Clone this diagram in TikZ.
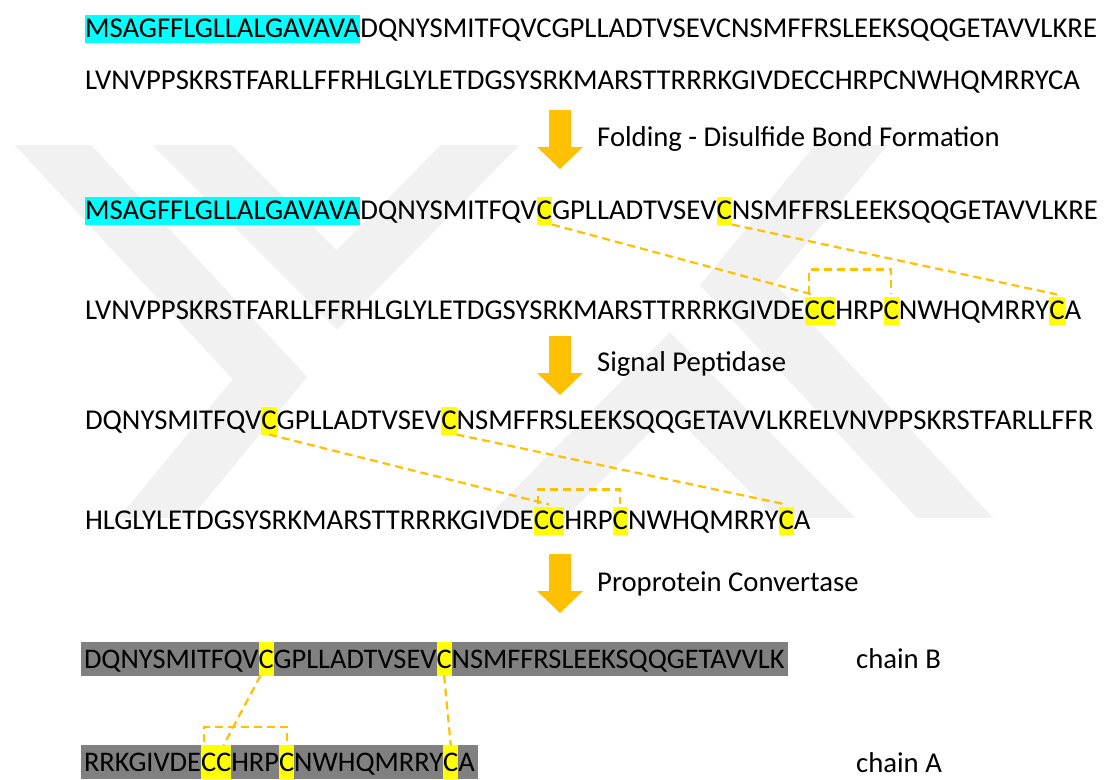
\documentclass[tikz,border=0pt]{standalone}
\usepackage{fontspec}
\setmainfont{Carlito}
\definecolor{gold}{HTML}{FFC000}
\definecolor{wmgray}{HTML}{F1F1F1}
\definecolor{chaingray}{HTML}{808080}
\definecolor{sigcyan}{HTML}{00FFFF}
\definecolor{hlyellow}{HTML}{FFFF00}
\pgfdeclarelayer{wm}
\pgfdeclarelayer{bg}
\pgfsetlayers{wm,bg,main}
\tikzset{
  seg/.style={inner sep=0pt, outer sep=0pt, anchor=base west, text height=22.5pt, text depth=5.5pt},
  hl/.style={seg, fill=hlyellow},
  sig/.style={seg, fill=sigcyan},
  cseg/.style={seg, font=\fontsize{28.4}{34}\selectfont, text height=26pt, text depth=7.5pt},
  chl/.style={cseg, fill=hlyellow},
  bond/.style={draw=gold, line width=2.2pt, dash pattern=on 8pt off 5pt},
  lbl/.style={anchor=base west, inner sep=0pt},
  wmband/.style={draw=wmgray, line width=56pt, miter limit=20},
  downarrow/.pic={\fill[gold] (-11,0) -- (11,0) -- (11,37) -- (23,37) -- (0,59) -- (-23,37) -- (-11,37) -- cycle;}
}
\begin{document}
\begin{tikzpicture}[x=1pt,y=-1pt,font=\fontsize{28.7}{34}\selectfont]
\useasboundingbox (0,0) rectangle (1107,779);
% watermark
\begin{pgfonlayer}{wm}
\begin{scope}
\clip (0,145) rectangle (1107,517);
\draw[wmband] (25,115) -- (270,378) -- (131,547);
\draw[wmband] (162,115) -- (337,290) -- (510,115);
\begin{scope}[rotate around={180:(503.5,331)}]
\draw[wmband] (25,115) -- (270,378) -- (131,547);
\draw[wmband] (162,115) -- (337,290) -- (510,115);
\end{scope}
\end{scope}
\end{pgfonlayer}
% row 1-2
\node[sig] (r1a) at (85,37) {MSAGFFLGLLALGAVAVA};
\node[seg] (r1b) at (r1a.base east) {DQNYSMITFQVCGPLLADTVSEVCNSMFFRSLEEKSQQGETAVVLKRE};
\node[seg] (r2) at (85,89) {LVNVPPSKRSTFARLLFFRHLGLYLETDGSYSRKMARSTTRRRKGIVDECCHRPCNWHQMRRYCA};
% arrow 1
\pic at (560,110) {downarrow};
\node[lbl] (l1) at (597,146) {Folding - Disulfide Bond Formation};
% row 3
\node[sig] (r3a) at (85,219) {MSAGFFLGLLALGAVAVA};
\node[seg] (r3b) at (r3a.base east) {DQNYSMITFQV};
\node[hl] (r3c1) at (r3b.base east) {C};
\node[seg] (r3d) at (r3c1.base east) {GPLLADTVSEV};
\node[hl] (r3c2) at (r3d.base east) {C};
\node[seg] (r3e) at (r3c2.base east) {NSMFFRSLEEKSQQGETAVVLKRE};
% row 4
\node[seg] (r4a) at (85,319) {LVNVPPSKRSTFARLLFFRHLGLYLETDGSYSRKMARSTTRRRKGIVDE};
\node[hl] (r4c1) at (r4a.base east) {C};
\node[hl] (r4c2) at (r4c1.base east) {C};
\node[seg] (r4b) at (r4c2.base east) {HRP};
\node[hl] (r4c3) at (r4b.base east) {C};
\node[seg] (r4d) at (r4c3.base east) {NWHQMRRY};
\node[hl] (r4c4) at (r4d.base east) {C};
\node[seg] (r4e) at (r4c4.base east) {A};
\draw[bond] (r3c1.south east) -- ([yshift=2pt]r4c1.north);
\draw[bond] (r3c2.south east) -- ([yshift=2pt]r4c4.north);
\draw[bond] ([xshift=4pt,yshift=3pt]r4c1.north west) -- ++(0,-24) -| ([yshift=3pt]r4c3.north);
% arrow 2
\pic at (560,336) {downarrow};
\node[lbl] (l2) at (597,371) {Signal Peptidase};
% row 5
\node[seg] (r5a) at (85,429) {DQNYSMITFQV};
\node[hl] (r5c1) at (r5a.base east) {C};
\node[seg] (r5b) at (r5c1.base east) {GPLLADTVSEV};
\node[hl] (r5c2) at (r5b.base east) {C};
\node[seg] (r5d) at (r5c2.base east) {NSMFFRSLEEKSQQGETAVVLKRELVNVPPSKRSTFARLLFFR};
% row 6
\node[seg] (r6a) at (85,529) {HLGLYLETDGSYSRKMARSTTRRRKGIVDE};
\node[hl] (r6c1) at (r6a.base east) {C};
\node[hl] (r6c2) at (r6c1.base east) {C};
\node[seg] (r6b) at (r6c2.base east) {HRP};
\node[hl] (r6c3) at (r6b.base east) {C};
\node[seg] (r6d) at (r6c3.base east) {NWHQMRRY};
\node[hl] (r6c4) at (r6d.base east) {C};
\node[seg] (r6e) at (r6c4.base east) {A};
\draw[bond] (r5c1.south) -- ([yshift=2pt]r6c1.north east);
\draw[bond] (r5c2.south east) -- ([yshift=2pt]r6c4.north);
\draw[bond] ([xshift=4pt,yshift=3pt]r6c1.north west) -- ++(0,-14) -| ([yshift=3pt]r6c3.north);
% arrow 3
\pic at (560,554) {downarrow};
\node[lbl] (l3) at (597,591) {Proprotein Convertase};
% chain B
\node[cseg] (b0) at (84,668) {DQNYSMITFQV};
\node[chl] (bc1) at (b0.base east) {C};
\node[cseg] (b1) at (bc1.base east) {GPLLADTVSEV};
\node[chl] (bc2) at (b1.base east) {C};
\node[cseg] (bend) at (bc2.base east) {NSMFFRSLEEKSQQGETAVVLK};
\node[lbl] (lb) at (856,668) {chain B};
% chain A
\node[cseg] (a0) at (84,771) {RRKGIVDE};
\node[chl] (ac1) at (a0.base east) {C};
\node[chl] (ac2) at (ac1.base east) {C};
\node[cseg] (a1) at (ac2.base east) {HRP};
\node[chl] (ac3) at (a1.base east) {C};
\node[cseg] (a2) at (ac3.base east) {NWHQMRRY};
\node[chl] (ac4) at (a2.base east) {C};
\node[cseg] (aend) at (ac4.base east) {A};
\node[lbl] (la) at (856,772) {chain A};
\begin{pgfonlayer}{bg}
\fill[chaingray] ([xshift=-3pt]b0.north west) rectangle ([xshift=3pt]bend.south east);
\fill[chaingray] ([xshift=-3pt]a0.north west) rectangle ([xshift=3pt]aend.south east);
\end{pgfonlayer}
\draw[bond] ([xshift=2pt]bc1.south west) -- (ac2.north);
\draw[bond] (bc2.south) -- (ac4.north);
\draw[bond] ([xshift=3pt,yshift=3pt]ac1.north west) -- ++(0,-15) -| ([yshift=3pt]ac3.north);
\end{tikzpicture}
\end{document}
